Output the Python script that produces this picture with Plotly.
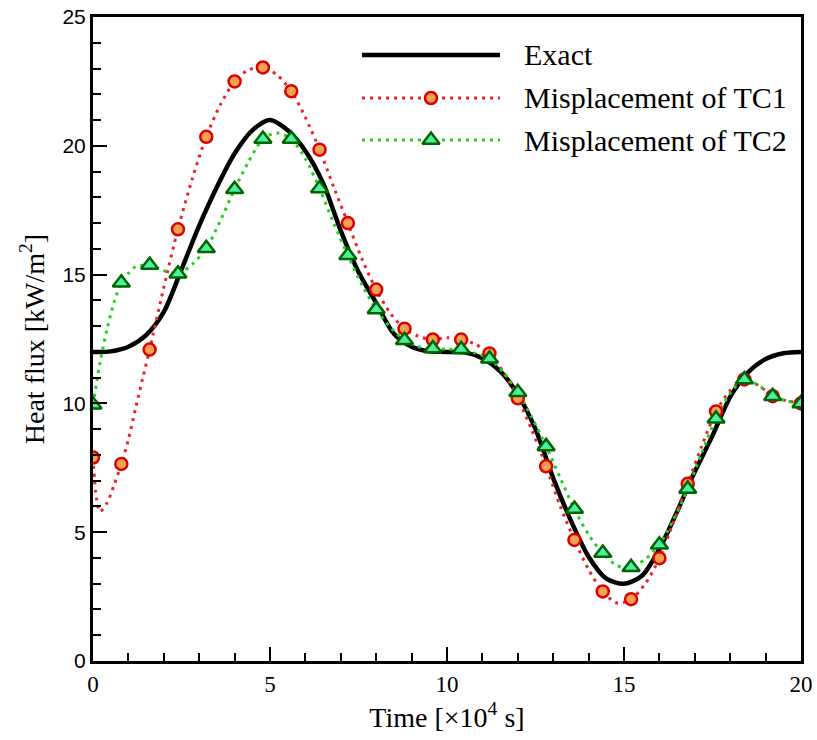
import plotly.graph_objects as go

# ---------------- data ----------------
exact_t = [0, 0.5, 1.0, 1.5, 2.0, 2.5, 3.0, 3.5, 4.0, 4.5, 5.0, 5.5, 6.0, 6.5, 7.0,
           7.5, 8.0, 8.5, 9.0, 9.5, 10.0, 10.5, 11.0, 11.5, 12.0, 12.5, 13.0, 13.5,
           14.0, 14.5, 15.0, 15.5, 16.0, 16.5, 17.0, 17.5, 18.0, 18.5, 19.0, 19.5, 20.0]
exact_q = [12.0, 12.02, 12.2, 12.65, 13.55, 15.2, 16.9, 18.4, 19.7, 20.6, 21.0, 20.6,
           19.8, 18.55, 16.7, 15.1, 13.9, 12.7, 12.2, 12.02, 12.0, 11.98, 11.75, 11.25,
           10.35, 9.0, 7.1, 5.45, 4.05, 3.2, 3.0, 3.3, 4.35, 5.8, 7.35, 8.75, 10.25,
           11.2, 11.72, 11.95, 12.0]

tc1_line_t = [0, 0.1, 0.2, 0.4, 0.6, 0.8, 1.0, 1.2, 1.4, 1.6, 2.0, 2.4, 2.8, 3.2, 3.6,
              4.0, 4.4, 4.8, 5.2, 5.6, 6.0, 6.4, 6.8, 7.2, 7.6, 8.0, 8.4, 8.8, 9.2, 9.6,
              10.0, 10.4, 10.8, 11.2, 11.6, 12.0, 12.4, 12.8, 13.2, 13.6, 14.0, 14.4,
              14.8, 15.2, 15.6, 16.0, 16.4, 16.8, 17.2, 17.6, 18.0, 18.4, 18.8, 19.2,
              19.6, 20.0]
tc1_line_q = [7.9, 6.3, 5.8, 6.15, 6.85, 7.65, 8.6, 9.8, 10.95, 12.09, 14.5, 16.76, 18.7,
              20.35, 21.6, 22.5, 22.95, 23.04, 22.75, 22.12, 21.1, 19.85, 18.4, 17.0,
              15.6, 14.42, 13.5, 12.9, 12.6, 12.48, 12.55, 12.48, 12.3, 11.94, 11.2,
              10.2, 8.95, 7.56, 6.0, 4.7, 3.55, 2.7, 2.25, 2.4, 3.0, 3.99, 5.4, 6.88,
              8.35, 9.69, 10.5, 10.93, 10.7, 10.28, 10.1, 10.0]

tc2_line_t = [0, 0.1, 0.2, 0.4, 0.6, 0.8, 1.0, 1.2, 1.6, 2.0, 2.4, 2.8, 3.2, 3.6, 4.0,
              4.4, 4.8, 5.2, 5.6, 6.0, 6.4, 6.8, 7.2, 7.6, 8.0, 8.4, 8.8, 9.2, 9.6, 10.0,
              10.4, 10.8, 11.2, 11.6, 12.0, 12.4, 12.8, 13.2, 13.6, 14.0, 14.4, 14.8,
              15.2, 15.6, 16.0, 16.4, 16.8, 17.2, 17.6, 18.0, 18.4, 18.8, 19.2, 19.6, 20.0]
tc2_line_q = [9.95, 10.8, 11.6, 12.9, 13.95, 14.68, 15.05, 15.3, 15.37, 15.15, 15.03,
              15.4, 16.02, 17.1, 18.31, 19.4, 20.26, 20.5, 20.26, 19.5, 18.34, 17.0,
              15.75, 14.6, 13.65, 12.95, 12.45, 12.2, 12.13, 12.1, 12.1, 11.95, 11.73,
              11.2, 10.43, 9.45, 8.33, 7.1, 5.9, 4.9, 4.19, 3.7, 3.64, 3.95, 4.51, 5.5,
              6.68, 8.1, 9.4, 10.4, 10.93, 10.7, 10.28, 10.1, 10.0]

marker_t = [0, 0.8, 1.6, 2.4, 3.2, 4.0, 4.8, 5.6, 6.4, 7.2, 8.0, 8.8, 9.6, 10.4, 11.2,
            12.0, 12.8, 13.6, 14.4, 15.2, 16.0, 16.8, 17.6, 18.4, 19.2, 20.0]
tc1_marker_q = [7.9, 7.65, 12.09, 16.76, 20.35, 22.5, 23.04, 22.12, 19.85, 17.0, 14.42,
                12.9, 12.48, 12.48, 11.94, 10.2, 7.56, 4.7, 2.7, 2.4, 3.99, 6.88, 9.69,
                10.93, 10.28, 10.0]
tc2_marker_q = [9.95, 14.68, 15.37, 15.03, 16.02, 18.31, 20.26, 20.26, 18.34, 15.75,
                13.65, 12.45, 12.13, 12.1, 11.73, 10.43, 8.33, 5.9, 4.19, 3.64, 4.51,
                6.68, 9.4, 10.93, 10.28, 10.0]

series_names = ["Exact", "Misplacement of TC1", "Misplacement of TC2"]

# ---------------- styles ----------------
RED_LINE = "#e8262a"
RED_EDGE = "#dd0000"
RED_FILL = "#f6a152"
GREEN_LINE = "#19d419"
GREEN_EDGE = "#006400"
GREEN_FILL = "#4cf0a0"
DOT = "3px,5px"
SERIF = "Liberation Serif, Times New Roman, serif"
SANS = "Liberation Sans, Arial, sans-serif"

fig = go.Figure()

fig.add_trace(go.Scatter(x=exact_t, y=exact_q, mode="lines", showlegend=False,
                         line=dict(color="black", width=4.5, shape="spline", smoothing=0.8)))
fig.add_trace(go.Scatter(x=tc1_line_t, y=tc1_line_q, mode="lines", showlegend=False,
                         line=dict(color=RED_LINE, width=3, dash=DOT, shape="spline", smoothing=0.8)))
fig.add_trace(go.Scatter(x=tc2_line_t, y=tc2_line_q, mode="lines", showlegend=False,
                         line=dict(color=GREEN_LINE, width=3, dash=DOT, shape="spline", smoothing=0.8)))
fig.add_trace(go.Scatter(x=marker_t, y=tc1_marker_q, mode="markers", showlegend=False,
                         marker=dict(symbol="circle", size=12, color=RED_FILL,
                                     line=dict(color=RED_EDGE, width=2.5))))
fig.add_trace(go.Scatter(x=marker_t, y=tc2_marker_q, mode="markers", showlegend=False,
                         marker=dict(symbol="triangle-up", size=15, color=GREEN_FILL,
                                     line=dict(color=GREEN_EDGE, width=2.5))))

# ---------------- manual legend (overlay axes 0..1) ----------------
L = 93.0; R = 801.0; T = 17.0; B = 661.0
def px(xp):
    return (xp - L) / (R - L)
def py(yp):
    return (B - yp) / (B - T)

rows = [55, 98, 140]
lx0, lx1, lm, ltext = px(362), px(500), px(431), px(522)

fig.add_trace(go.Scatter(x=[lx0, lx1], y=[py(rows[0])] * 2, xaxis="x2", yaxis="y2",
                         mode="lines", showlegend=False, hoverinfo="skip",
                         line=dict(color="black", width=4.5)))
fig.add_trace(go.Scatter(x=[lx0, lx1], y=[py(rows[1])] * 2, xaxis="x2", yaxis="y2",
                         mode="lines", showlegend=False, hoverinfo="skip",
                         line=dict(color=RED_LINE, width=3, dash=DOT)))
fig.add_trace(go.Scatter(x=[lx0, lx1], y=[py(rows[2])] * 2, xaxis="x2", yaxis="y2",
                         mode="lines", showlegend=False, hoverinfo="skip",
                         line=dict(color=GREEN_LINE, width=3, dash=DOT)))
fig.add_trace(go.Scatter(x=[lm], y=[py(rows[1])], xaxis="x2", yaxis="y2",
                         mode="markers", showlegend=False, hoverinfo="skip",
                         marker=dict(symbol="circle", size=12, color=RED_FILL,
                                     line=dict(color=RED_EDGE, width=2.5))))
fig.add_trace(go.Scatter(x=[lm], y=[py(rows[2])], xaxis="x2", yaxis="y2",
                         mode="markers", showlegend=False, hoverinfo="skip",
                         marker=dict(symbol="triangle-up", size=15, color=GREEN_FILL,
                                     line=dict(color=GREEN_EDGE, width=2.5))))

for name, r in zip(series_names, rows):
    fig.add_annotation(x=ltext, y=py(r), xref="paper", yref="paper", text=name,
                       showarrow=False, xanchor="left", yanchor="middle",
                       font=dict(family=SERIF, size=30, color="black"))

axis_common = dict(
    showline=True, linewidth=3, linecolor="black", mirror=True,
    showgrid=False, zeroline=False, automargin=False,
    ticks="inside", ticklen=14, tickwidth=2, tickcolor="black",
    minor=dict(ticks="inside", ticklen=8, tickwidth=1.5, tickcolor="black", dtick=1),
)

fig.update_layout(
    width=817, height=740,
    margin=dict(l=93, r=16, t=17, b=79),
    plot_bgcolor="white", paper_bgcolor="white",
    showlegend=False,
    xaxis=dict(range=[0, 20], tick0=0, dtick=5,
               tickfont=dict(family=SERIF, size=23, color="black"),
               title=dict(text="Time [×10<sup>4</sup> s]", standoff=12,
                          font=dict(family=SERIF, size=28, color="black")),
               **axis_common),
    yaxis=dict(range=[0, 25], tick0=0, dtick=5,
               tickfont=dict(family=SANS, size=21, color="black"),
               title=dict(text="Heat flux [kW/m<sup>2</sup>]", standoff=10,
                          font=dict(family=SERIF, size=28, color="black")),
               **axis_common),
    xaxis2=dict(overlaying="x", range=[0, 1], visible=False, fixedrange=True),
    yaxis2=dict(overlaying="y", range=[0, 1], visible=False, fixedrange=True),
)

fig.write_html("out.html")
